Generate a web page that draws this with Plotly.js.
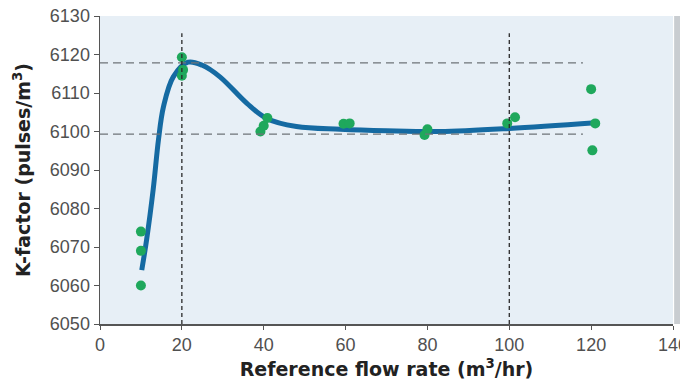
<!DOCTYPE html>
<html>
<head>
<meta charset="utf-8">
<script src="https://cdn.plot.ly/plotly-3.0.1.min.js"></script>
<style>html,body{margin:0;padding:0;background:#fff;overflow:hidden;}#chart{width:680px;height:382px;}</style>
</head>
<body>
<div id="chart"></div>
<script>
// Measured points
const pointFlow = [10, 10, 10, 20, 20, 20.3, 39.2, 40, 40.9, 59.5, 61, 79.3, 80, 99.5, 101.4, 120, 121, 120.3];
const pointK    = [6074, 6069, 6060, 6119.3, 6114.5, 6116, 6100, 6101.5, 6103.5, 6102, 6102.1, 6099.1, 6100.6, 6102.1, 6103.7, 6111, 6102.1, 6095.1];

// Fitted curve
const curveFlow = [10.2, 11.4, 13, 14.3, 15.5, 17.9, 21.5, 25, 29.3, 35.9, 40.7, 48, 58.7, 70, 83, 100, 121];
const curveK    = [6064, 6072, 6085, 6098, 6106.4, 6114.2, 6118, 6117.2, 6114.2, 6107.3, 6103.4, 6101.3, 6100.6, 6100.2, 6100, 6100.8, 6102.3];

// Reference lines
const refFlow = [20, 100];
const refK = [6117.8, 6099.3];

const xTicks = [0, 20, 40, 60, 80, 100, 120, 140];
const yTicks = [6050, 6060, 6070, 6080, 6090, 6100, 6110, 6120, 6130];

const shapes = [];
refK.forEach(v => shapes.push({type:'line', xref:'x', yref:'y', x0:0, x1:118, y0:v, y1:v,
  line:{color:'#6f7478', width:1.2, dash:'8px,5px'}, layer:'above'}));
refFlow.forEach(v => shapes.push({type:'line', xref:'x', yref:'y', x0:v, x1:v, y0:6050, y1:6125.5,
  line:{color:'#2a2a2a', width:1.3, dash:'4px,3px'}, layer:'above'}));
shapes.push({type:'rect', xref:'paper', yref:'paper', x0:1.002, x1:1.013, y0:0, y1:1,
  fillcolor:'#c9cdd1', line:{width:0}, layer:'below'});

const titleFont = {size:19, color:'#222', family:'DejaVu Sans, Liberation Sans, sans-serif', weight:'bold'};

const traces = [
  {x: curveFlow, y: curveK, mode:'lines', type:'scatter', line:{color:'#156aa2', width:5, shape:'spline', smoothing:1}, hoverinfo:'skip'},
  {x: pointFlow, y: pointK, mode:'markers', type:'scatter', marker:{color:'#1fa85c', size:10}},
];

const layout = {
  width:680, height:382,
  margin:{l:100, r:7, t:16, b:58},
  paper_bgcolor:'#ffffff',
  plot_bgcolor:'#e7eff6',
  showlegend:false,
  shapes: shapes,
  font:{family:'Liberation Sans, Arial, sans-serif', color:'#4a4a4a'},
  xaxis:{
    range:[0,140], tickvals:xTicks, ticktext:xTicks.map(String), ticklabeloverflow:'allow',
    showgrid:false, zeroline:false, showline:true, linecolor:'#555', linewidth:1.5,
    ticks:'outside', ticklen:4, tickcolor:'#555', tickfont:{size:18, color:'#505050'},
    title:{text:'Reference flow rate (m<sup>3</sup>/hr)', font:titleFont, standoff:8}
  },
  yaxis:{
    range:[6050,6130], tickvals:yTicks, ticktext:yTicks.map(String),
    showgrid:false, zeroline:false, showline:true, linecolor:'#555', linewidth:1.5,
    ticks:'outside', ticklen:5, tickcolor:'#555', tickfont:{size:18, color:'#505050'},
    title:{text:'K-factor (pulses/m<sup>3</sup>)', font:titleFont, standoff:14}
  }
};

Plotly.newPlot('chart', traces, layout, {staticPlot:true, displayModeBar:false});
</script>
</body>
</html>
